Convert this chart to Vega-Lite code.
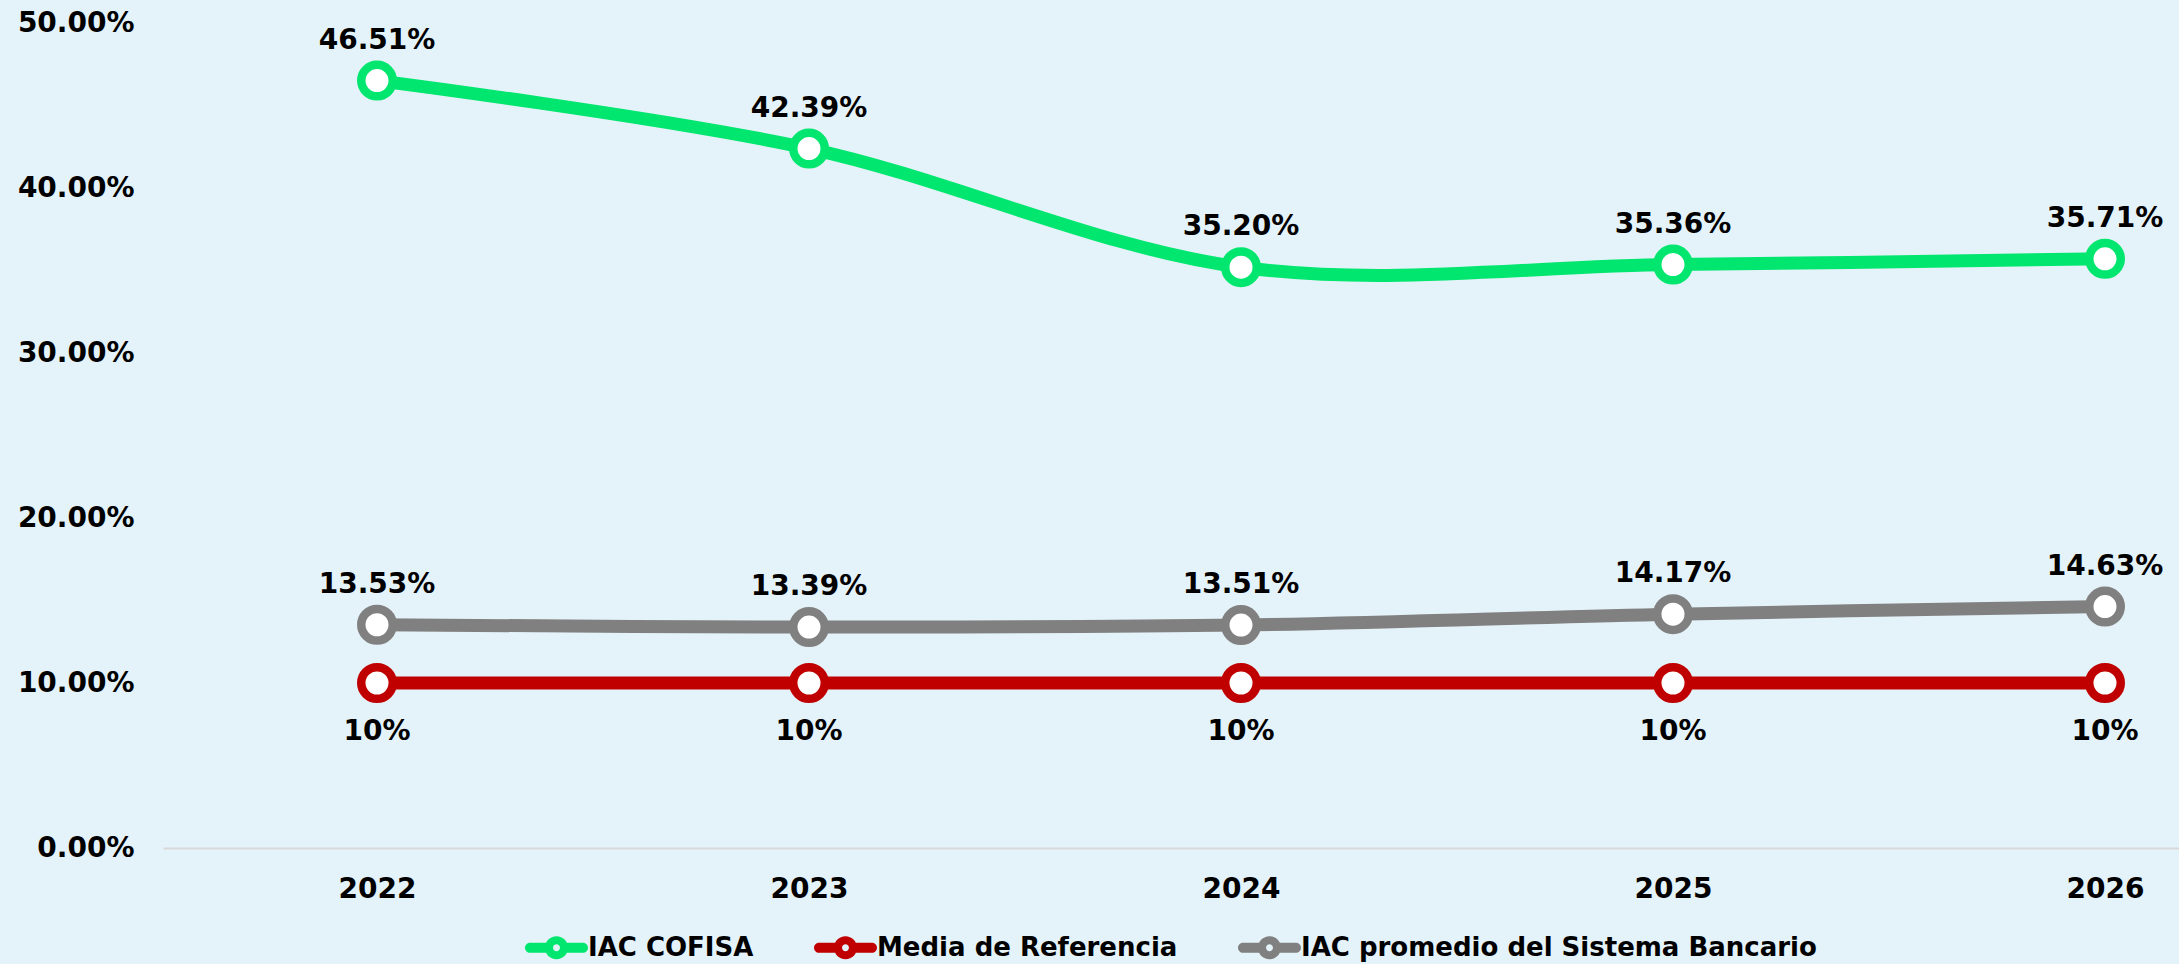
{
  "$schema": "https://vega.github.io/schema/vega-lite/v6.json",
  "width": 2016,
  "height": 825,
  "autosize": {"type": "none"},
  "padding": {"left": 163, "top": 23, "right": 0, "bottom": 116},
  "background": "#E4F2F9",
  "config": {
    "view": {"stroke": null},
    "font": "DejaVu Sans",
    "axis": {"labelFont": "DejaVu Sans", "labelFontSize": 28, "labelFontWeight": "bold", "labelColor": "#000000", "grid": false, "ticks": false, "title": null}
  },
  "data": {
    "values": [
      {"year": 2022, "series": "IAC COFISA", "value": 0.4651},
      {"year": 2023, "series": "IAC COFISA", "value": 0.4239},
      {"year": 2024, "series": "IAC COFISA", "value": 0.3520},
      {"year": 2025, "series": "IAC COFISA", "value": 0.3536},
      {"year": 2026, "series": "IAC COFISA", "value": 0.3571},
      {"year": 2022, "series": "Media de Referencia", "value": 0.10},
      {"year": 2023, "series": "Media de Referencia", "value": 0.10},
      {"year": 2024, "series": "Media de Referencia", "value": 0.10},
      {"year": 2025, "series": "Media de Referencia", "value": 0.10},
      {"year": 2026, "series": "Media de Referencia", "value": 0.10},
      {"year": 2022, "series": "IAC promedio del Sistema Bancario", "value": 0.1353},
      {"year": 2023, "series": "IAC promedio del Sistema Bancario", "value": 0.1339},
      {"year": 2024, "series": "IAC promedio del Sistema Bancario", "value": 0.1351},
      {"year": 2025, "series": "IAC promedio del Sistema Bancario", "value": 0.1417},
      {"year": 2026, "series": "IAC promedio del Sistema Bancario", "value": 0.1463}
    ]
  },
  "encoding": {
    "x": {
      "field": "year", "type": "quantitative",
      "scale": {"domain": [2021.5046, 2026.1713], "nice": false, "zero": false},
      "axis": {"values": [2022, 2023, 2024, 2025, 2026], "format": "d", "labelAngle": 0, "domainColor": "#D9D9D9", "domainWidth": 2, "labelPadding": 27, "labelFlush": false, "labelOverlap": false}
    },
    "y": {
      "field": "value", "type": "quantitative",
      "scale": {"domain": [0, 0.5], "nice": false, "zero": true},
      "axis": {"values": [0, 0.1, 0.2, 0.3, 0.4, 0.5], "format": ".2%", "domain": false, "labelPadding": 29}
    },
    "color": {
      "field": "series", "type": "nominal",
      "scale": {
        "domain": ["IAC COFISA", "Media de Referencia", "IAC promedio del Sistema Bancario"],
        "range": ["#00E66E", "#C00000", "#808080"]
      },
      "legend": {
        "title": null,
        "orient": "none",
        "direction": "horizontal",
        "legendX": 362,
        "legendY": 893,
        "symbolType": "M-0.3,-0.16 L-0.84,-0.16 A0.16,0.16 0 0 0 -0.84,0.16 L-0.3,0.16 Z M0.3,0.16 L0.84,0.16 A0.16,0.16 0 0 0 0.84,-0.16 L0.3,-0.16 Z M0.365,0 A0.365,0.365 0 1 0 -0.365,0 A0.365,0.365 0 1 0 0.365,0 Z M0.11,0 A0.11,0.11 0 1 1 -0.11,0 A0.11,0.11 0 1 1 0.11,0 Z",
        "symbolSize": 3969,
        "symbolStrokeWidth": 0,
        "labelFont": "DejaVu Sans",
        "labelFontSize": 26,
        "labelFontWeight": "bold",
        "labelColor": "#000000",
        "labelOffset": 0,
        "columnPadding": 60,
        "labelLimit": 1000,
        "encode": {
          "symbols": {
            "update": {
              "fill": {"scale": "color", "field": "value"},
              "stroke": {"value": "transparent"},
              "fillOpacity": {"value": 1},
              "opacity": {"value": 1}
            }
          }
        }
      }
    }
  },
  "layer": [
    {"mark": {"type": "line", "interpolate": "cardinal", "strokeWidth": 13}},
    {"mark": {"type": "point", "filled": false, "fill": "#FFFFFF", "fillOpacity": 1, "opacity": 1, "size": 992, "strokeWidth": 8.5, "shape": "circle"}},
    {
      "transform": [{"filter": "datum.series !== 'Media de Referencia'"}],
      "mark": {"type": "text", "dy": -40, "fontSize": 28, "fontWeight": "bold", "baseline": "middle", "font": "DejaVu Sans"},
      "encoding": {"text": {"field": "value", "type": "quantitative", "format": ".2%"}, "color": {"value": "#000000"}}
    },
    {
      "transform": [{"filter": "datum.series === 'Media de Referencia'"}],
      "mark": {"type": "text", "dy": 49, "fontSize": 28, "fontWeight": "bold", "baseline": "middle", "font": "DejaVu Sans"},
      "encoding": {"text": {"field": "value", "type": "quantitative", "format": ".0%"}, "color": {"value": "#000000"}}
    }
  ]
}
